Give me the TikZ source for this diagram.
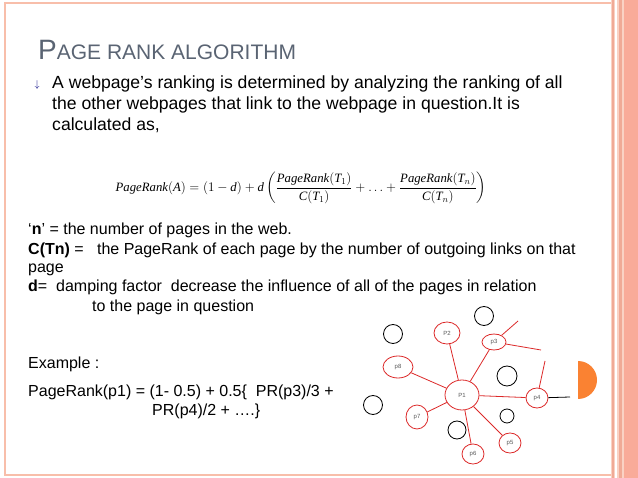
\documentclass[tikz,border=0pt]{standalone}
\usepackage{amsmath}
\usepackage{fontspec}
\usetikzlibrary{shapes.geometric}
\setmainfont{Liberation Sans}
\newfontfamily\serifTNR{Liberation Serif}
\definecolor{salm}{RGB}{248,190,170}
\definecolor{salm2}{RGB}{240,170,150}
\definecolor{ttl}{RGB}{90,100,115}
\definecolor{orng}{RGB}{250,130,50}
\definecolor{edg}{RGB}{220,40,40}
\begin{document}
\begin{tikzpicture}[x=1pt,y=-1pt,
 pg/.style={draw=edg,thick,ellipse,inner sep=0pt,font=\fontsize{6}{6}\selectfont,text=gray!70!black},
 bc/.style={draw=black,thick,circle,inner sep=0pt},
 el/.style={edg,thick},
 tb/.style={anchor=base west,inner sep=0pt,font=\fontsize{17.6}{20}\selectfont},
 tx/.style={anchor=base west,inner sep=0pt,font=\fontsize{16}{18}\selectfont}]
\useasboundingbox (0,0) rectangle (638,478);
\fill[white] (0,0) rectangle (638,478);
\draw[salm,line width=2pt] (5,3) rectangle (620,475);
\fill[salm!70] (611,0) rectangle (638,478);
\fill[salm2] (612,0) rectangle (614,478);
\fill[white] (615,0) rectangle (617,478);
\fill[salm2] (619,0) rectangle (622,478);
\fill[salm!90!red] (624,0) rectangle (638,478);
\node[anchor=base west,inner sep=0pt,text=ttl] (title) at (38,60) {\fontsize{28}{28}\selectfont P\fontsize{21}{21}\selectfont AGE RANK ALGORITHM};
\node[inner sep=0pt,text=blue!50!black] (bul) at (37,85) {\fontsize{10}{10}\selectfont$\downarrow$};
\node[tb] (l1) at (52,89) {A webpage’s ranking is determined by analyzing the ranking of all};
\node[tb] (l2) at (52,110) {the other webpages that link to the webpage in question.It is};
\node[tb] (l3) at (52,131) {calculated as,};
\node[inner sep=0pt,scale=0.91] (f) at (301,188) {\serifTNR\fontsize{14}{14}\selectfont$\textit{PageRank}(\textit{A})=(1-\textit{d})+\textit{d}\left(\dfrac{\textit{PageRank}(\textit{T}_1)}{\textit{C}(\textit{T}_1)}+\ldots+\dfrac{\textit{PageRank}(\textit{T}_n)}{\textit{C}(\textit{T}_n)}\right)$};
\node[tx] (a1) at (28,235) {‘\textbf{n}’ = the number of pages in the web.};
\node[tx] (a2) at (28,255) {\textbf{C(Tn)} =\ \ \ the PageRank of each page by the number of outgoing links on that};
\node[tx] (a3) at (28,273) {page};
\node[tx] (a4) at (28,292) {\textbf{d}=\ \ damping factor\ \ decrease the influence of all of the pages in relation};
\node[tx] (a5) at (92,312) {to the page in question};
\node[tx] (e1) at (28,369) {Example :};
\node[tx] (e2) at (28,397) {PageRank(p1) = (1- 0.5) + 0.5\{\ \ PR(p3)/3 +};
\node[tx] (e3) at (152,416) {PR(p4)/2 + ….\}};
\node[pg,minimum width=34pt,minimum height=30pt] (p1) at (462,395) {P1};
\node[pg,minimum width=26pt,minimum height=22pt] (p2) at (447,333) {P2};
\node[pg,minimum width=24pt,minimum height=16pt] (p3) at (494,342) {p3};
\node[pg,minimum width=30pt,minimum height=22pt] (p8) at (398,367) {p8};
\node[pg,minimum width=22pt,minimum height=20pt] (p4) at (537,398) {p4};
\node[pg,minimum width=22pt,minimum height=24pt] (p7) at (417,417) {p7};
\node[pg,minimum width=22pt,minimum height=20pt] (p5) at (510,443) {p5};
\node[pg,minimum width=22pt,minimum height=20pt] (p6) at (473,454) {p6};
\foreach \n in {p2,p3,p8,p4,p7,p5,p6} \draw[el] (p1) -- (\n);
\coordinate (c3a) at (518,321); \coordinate (c3b) at (541,350);
\coordinate (c4a) at (545,361); \coordinate (c4b) at (570,397);
\draw[el] (p3) -- (c3a); \draw[el] (p3) -- (c3b); \draw[el] (p4) -- (c4a);
\draw[thick] (p4) -- (c4b);
\node[bc,minimum size=19pt] (b1) at (393,334) {};
\node[bc,minimum size=19pt] (b2) at (484,316) {};
\node[bc,minimum size=20pt] (b3) at (507,376) {};
\node[bc,minimum size=19pt] (b4) at (373,405) {};
\node[bc,minimum size=14pt] (b5) at (507,416) {};
\node[bc,minimum size=18pt] (b6) at (457,430) {};
\fill[orng] (578,399) arc[start angle=90,end angle=-90,radius=19] -- cycle;
\end{tikzpicture}
\end{document}
